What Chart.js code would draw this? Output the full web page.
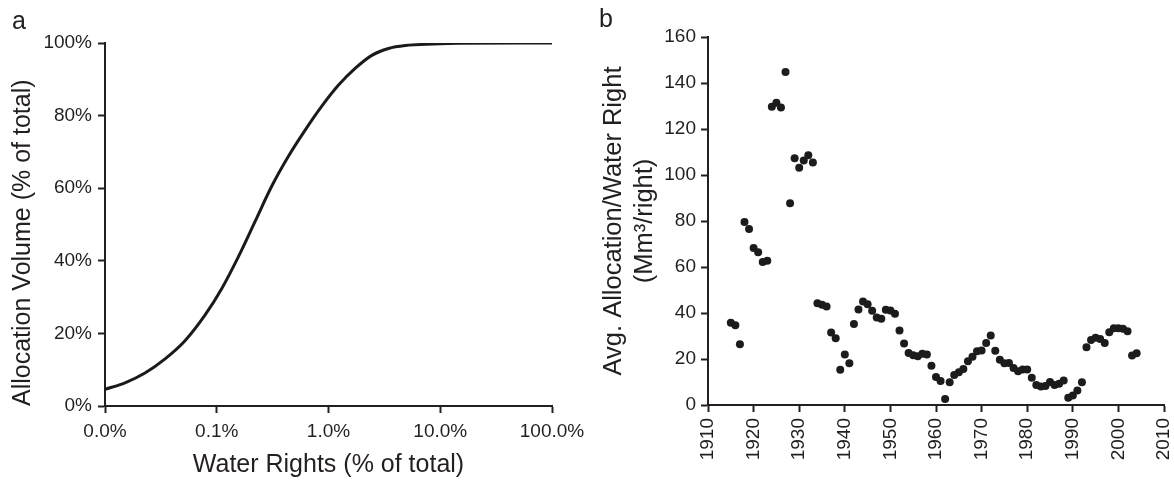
<!DOCTYPE html>
<html><head><meta charset="utf-8">
<script src="https://cdn.jsdelivr.net/npm/chart.js@4.4.0/dist/chart.umd.min.js"></script>
<style>
html,body{margin:0;padding:0;background:#fff;overflow:hidden;width:1174px;height:482px;}
#wa{position:absolute;left:0;top:0;width:600px;height:482px;}
#wb{position:absolute;left:580px;top:0;width:594px;height:482px;}
.lab{position:absolute;font-family:"Liberation Sans",Arial,sans-serif;font-size:25px;color:#222;line-height:1;}
</style></head><body>
<div id="wa"><canvas id="ca"></canvas></div>
<div id="wb"><canvas id="cb"></canvas></div>
<div class="lab" style="left:12px;top:8px">a</div>
<div class="lab" style="left:599px;top:6px">b</div>
<script>
// Panel a: cumulative allocation curve
const rightsPct = [0.01, 0.0151, 0.0228, 0.0345, 0.052, 0.0787, 0.111, 0.156, 0.220, 0.311, 0.438, 0.618, 0.871, 1.23, 1.73, 2.44, 3.44, 4.86, 8.7, 15, 100];
const volumePct = [4.6, 6.4, 9.1, 13.0, 18.0, 25.1, 32.4, 41.1, 50.8, 60.6, 68.8, 76.0, 82.6, 88.4, 93.0, 96.6, 98.5, 99.3, 99.7, 99.9, 100];
const rightsTicks = [0.01, 0.1, 1, 10, 100];
const rightsTickLabels = ['0.0%', '0.1%', '1.0%', '10.0%', '100.0%'];
const volumeTicks = [0, 20, 40, 60, 80, 100];

// Panel b: average allocation per water right by year
const years = [1915,1916,1917,1918,1919,1920,1921,1922,1923,1924,1925,1926,1927,1928,1929,1930,1931,1932,1933,1934,1935,1936,1937,1938,1939,1940,1941,1942,1943,1944,1945,1946,1947,1948,1949,1950,1951,1952,1953,1954,1955,1956,1957,1958,1959,1960,1961,1962,1963,1964,1965,1966,1967,1968,1969,1970,1971,1972,1973,1974,1975,1976,1977,1978,1979,1980,1981,1982,1983,1984,1985,1986,1987,1988,1989,1990,1991,1992,1993,1994,1995,1996,1997,1998,1999,2000,2001,2002,2003,2004];
const avgAlloc = [35.8,34.7,26.4,79.6,76.5,68.3,66.4,62.2,62.7,129.7,131.4,129.4,144.8,87.7,107.3,103.2,106.3,108.6,105.4,44.2,43.6,42.8,31.5,29.0,15.3,22.0,18.2,35.2,41.5,45.0,43.8,41.0,38.0,37.5,41.4,41.1,39.7,32.4,26.7,22.6,21.6,21.2,22.3,22.0,17.1,12.2,10.4,2.6,9.9,13.0,14.2,15.7,19.0,21.0,23.4,23.7,27.0,30.2,23.6,19.7,18.2,18.3,16.1,14.7,15.4,15.4,11.8,8.7,8.0,8.3,10.0,8.7,9.2,10.6,3.1,4.1,6.3,9.9,25.1,28.3,29.2,28.7,27.0,31.6,33.4,33.4,33.1,32.1,21.5,22.5];
const yearTicks = [1910,1920,1930,1940,1950,1960,1970,1980,1990,2000,2010];
const allocTicks = [0,20,40,60,80,100,120,140,160];

const F = '"Liberation Sans", Arial, sans-serif';
const C = '#231f20';

function fixTicks(vals) {
  return s => { s.ticks = vals.map(v => ({value: v})); };
}
function axisGrid(len) {
  return {display: true, drawOnChartArea: false, drawTicks: true, tickLength: len, tickWidth: 2, tickColor: C};
}
const border = {display: true, color: C, width: 2};

new Chart(document.getElementById('ca'), {
  type: 'line',
  data: {
    datasets: [{
      data: rightsPct.map((x, i) => ({x: x, y: volumePct[i]})),
      borderColor: '#1a1a1a',
      borderWidth: 3,
      pointRadius: 0,
      fill: false,
      cubicInterpolationMode: 'monotone'
    }]
  },
  options: {
    responsive: true,
    maintainAspectRatio: false,
    animation: false,
    layout: {padding: {top: 43, right: 48, left: 0, bottom: 0}},
    plugins: {legend: {display: false}, tooltip: {enabled: false}},
    scales: {
      x: {
        type: 'logarithmic', min: 0.01, max: 100,
        afterBuildTicks: fixTicks(rightsTicks),
        ticks: {callback: (v, i) => rightsTickLabels[i], font: {size: 19, family: F}, color: C, padding: 7, maxRotation: 0, autoSkip: false},
        grid: axisGrid(7),
        border: border,
        title: {display: true, text: 'Water Rights (% of total)', font: {size: 25, family: F}, color: C, padding: {top: 0, bottom: 2}},
        afterFit: s => { s.height = 76; s.paddingLeft = 0; s.paddingRight = 0; }
      },
      y: {
        type: 'linear', min: 0, max: 100,
        afterBuildTicks: fixTicks(volumeTicks),
        ticks: {callback: v => v + '%', font: {size: 19, family: F}, color: C, padding: 6},
        grid: axisGrid(7),
        border: border,
        title: {display: true, align: 'start', text: 'Allocation Volume (% of total)', font: {size: 25, family: F}, color: C, padding: {top: 8, bottom: 0}},
        afterFit: s => { s.width = 105; s.paddingTop = 0; s.paddingBottom = 0; }
      }
    }
  }
});

new Chart(document.getElementById('cb'), {
  type: 'scatter',
  data: {
    datasets: [{
      data: years.map((x, i) => ({x: x, y: avgAlloc[i]})),
      backgroundColor: '#1c1c1c',
      borderWidth: 0,
      pointRadius: 4
    }]
  },
  options: {
    responsive: true,
    maintainAspectRatio: false,
    animation: false,
    layout: {padding: {top: 37, right: 10, left: 0, bottom: 0}},
    plugins: {legend: {display: false}, tooltip: {enabled: false}},
    scales: {
      x: {
        type: 'linear', min: 1910, max: 2010,
        afterBuildTicks: fixTicks(yearTicks),
        ticks: {callback: v => String(v), font: {size: 19, family: F}, color: C, padding: 6, minRotation: 90, maxRotation: 90, autoSkip: false},
        grid: axisGrid(7),
        border: border,
        afterFit: s => { s.height = 77; s.paddingLeft = 0; s.paddingRight = 0; }
      },
      y: {
        type: 'linear', min: 0, max: 160,
        afterBuildTicks: fixTicks(allocTicks),
        ticks: {callback: v => String(v), font: {size: 19, family: F}, color: C, padding: 5},
        grid: axisGrid(7),
        border: border,
        title: {display: true, text: ['Avg. Allocation/Water Right', '(Mm\u00B3/right)'], font: {size: 25.5, family: F, lineHeight: 1.2}, color: C, padding: {top: 19, bottom: 0}},
        afterFit: s => { s.width = 128; s.paddingTop = 0; s.paddingBottom = 0; }
      }
    }
  }
});
</script>
</body></html>
